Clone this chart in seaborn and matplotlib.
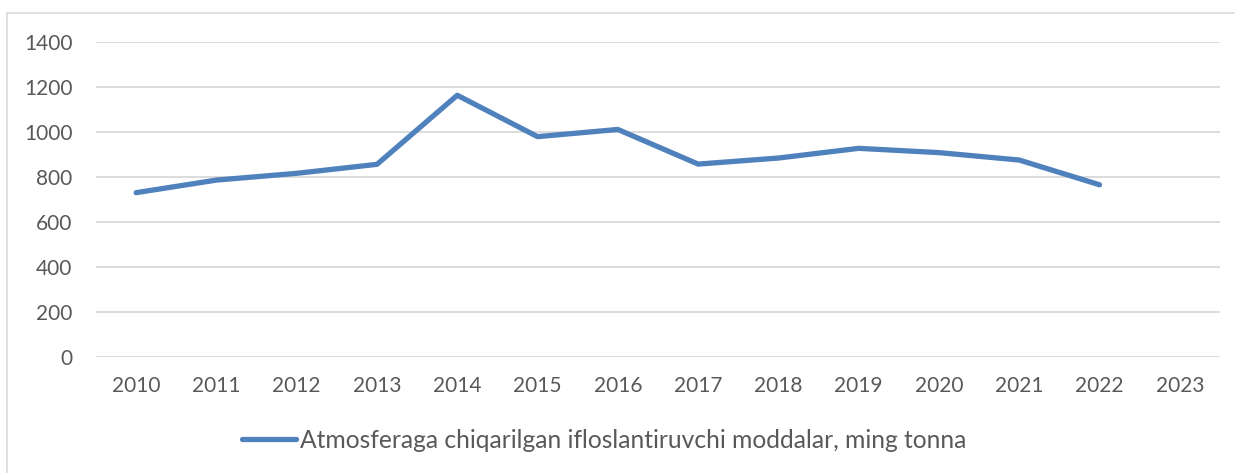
import matplotlib.pyplot as plt
import numpy as np
import pandas as pd
import seaborn as sns
from matplotlib.patches import Rectangle

years = ["2010", "2011", "2012", "2013", "2014", "2015", "2016",
         "2017", "2018", "2019", "2020", "2021", "2022", "2023"]
emissions = [729, 785, 815, 855, 1162, 978, 1010,
             856, 883, 926, 907, 874, 764, np.nan]
series_name = "Atmosferaga chiqarilgan ifloslantiruvchi moddalar, ming tonna"

df = pd.DataFrame({"pos": range(len(years)), "value": emissions})

sns.set_style("white")
plt.rcParams["font.family"] = ["Lato", "DejaVu Sans"]
text_col = "#595959"
grid_col = "#d9d9d9"

fig = plt.figure(figsize=(12.35, 4.73), dpi=100)
ax = fig.add_axes([96 / 1235, 1 - 356.7 / 473, (1220 - 96) / 1235, (356.7 - 41.7) / 473])

sns.lineplot(data=df, x="pos", y="value", ax=ax, color="#4f81bd",
             linewidth=3.8, label=series_name, solid_capstyle="round")

ax.set_xlim(-0.5, len(years) - 0.5)
ax.set_ylim(0, 1400)
ax.set_yticks(range(0, 1401, 200))
ax.set_xticks(range(len(years)), years)
ax.set_xlabel("")
ax.set_ylabel("")
ax.yaxis.grid(True, color=grid_col, linewidth=1.3)
ax.set_axisbelow(True)
for s in ax.spines.values():
    s.set_visible(False)
ax.tick_params(axis="both", length=0, colors=text_col, labelsize=15)
ax.tick_params(axis="y", pad=17)
ax.tick_params(axis="x", pad=14)

leg = ax.legend(loc="center", bbox_to_anchor=(604 / 1235, 1 - 440 / 473), bbox_transform=fig.transFigure,
                frameon=False, fontsize=17.7, handlelength=2.2, handletextpad=0.17)
for t in leg.get_texts():
    t.set_color(text_col)

# chart frame (only top and left visible in the crop)
fig.patches.append(Rectangle((7 / 1235, -0.1), 1.2, 1 - 13 / 473 + 0.1, transform=fig.transFigure,
                             fill=False, edgecolor=grid_col, linewidth=1.2))

fig.savefig("out.png", dpi=100)
